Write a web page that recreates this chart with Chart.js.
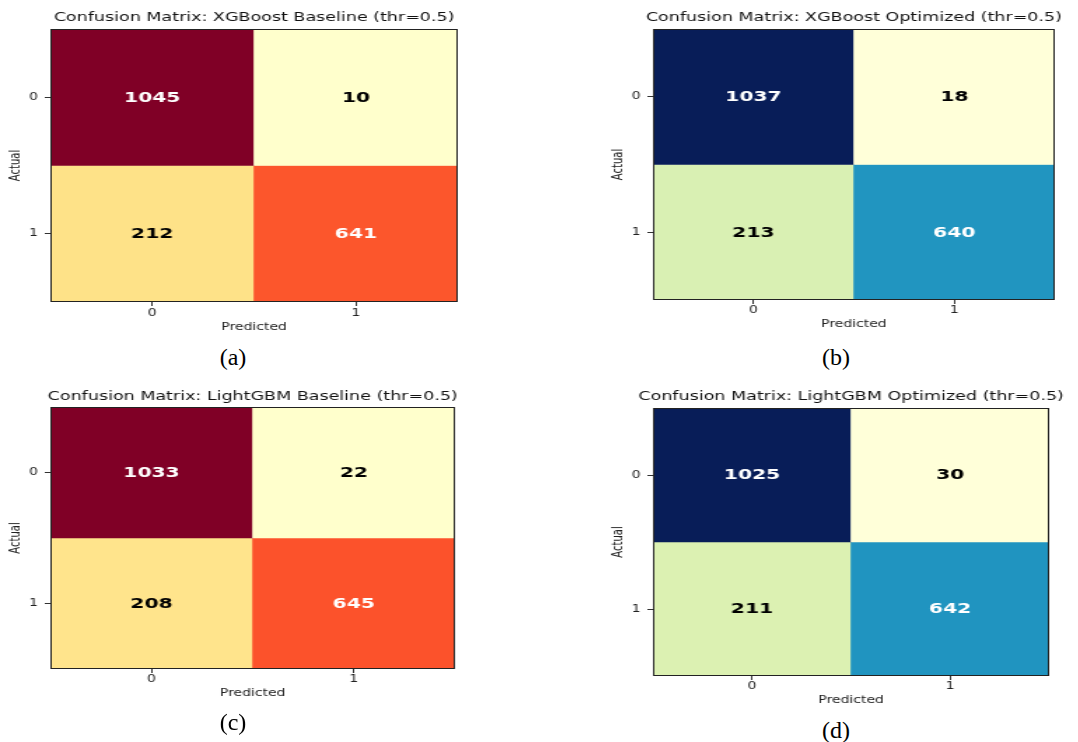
<!DOCTYPE html>
<html>
<head>
<meta charset="utf-8">
<script src="https://cdn.jsdelivr.net/npm/chart.js@4.4.1/dist/chart.umd.min.js"></script>
<style>
html,body{margin:0;padding:0;background:#fff;width:1078px;height:742px;overflow:hidden;position:relative;}
.panel{position:absolute;transform:scaleX(1.4);transform-origin:0 0;}
.panel canvas{display:block;}
.cap{position:absolute;font-family:"Liberation Serif","Times New Roman",serif;font-size:24px;color:#000;transform:translate(-50%,-50%);line-height:1;white-space:nowrap;}
</style>
</head>
<body>
<div class="panel" style="left:0px;top:0px"><canvas id="ca" width="363" height="340"></canvas></div>
<div class="panel" style="left:597px;top:0px"><canvas id="cb" width="367" height="340"></canvas></div>
<div class="panel" style="left:0px;top:371px"><canvas id="cc" width="361" height="340"></canvas></div>
<div class="panel" style="left:597px;top:371px"><canvas id="cd" width="363" height="340"></canvas></div>
<div class="cap" style="left:233px;top:357px">(a)</div>
<div class="cap" style="left:836px;top:357px">(b)</div>
<div class="cap" style="left:233px;top:722px">(c)</div>
<div class="cap" style="left:836px;top:730px">(d)</div>
<script>
// ---- data ----
const predictedLabels = ['0', '1'];
const actualTicks = [0, 1];
const actualTickLabels = ['0', '1'];
const xgbBaseline = [[1045, 10], [212, 641]];
const xgbOptimized = [[1037, 18], [213, 640]];
const lgbBaseline = [[1033, 22], [208, 645]];
const lgbOptimized = [[1025, 30], [211, 642]];
const panelTitles = [
  'Confusion Matrix: XGBoost Baseline (thr=0.5)',
  'Confusion Matrix: XGBoost Optimized (thr=0.5)',
  'Confusion Matrix: LightGBM Baseline (thr=0.5)',
  'Confusion Matrix: LightGBM Optimized (thr=0.5)'
];

// ---- colormaps ----
const YlOrRd = ['#ffffcc','#ffeda0','#fed976','#feb24c','#fd8d3c','#fc4e2a','#e31a1c','#bd0026','#800026'];
const YlGnBu = ['#ffffd9','#edf8b1','#c7e9b4','#7fcdbb','#41b6c4','#1d91c0','#225ea8','#253494','#081d58'];
function hex(h){return [parseInt(h.slice(1,3),16),parseInt(h.slice(3,5),16),parseInt(h.slice(5,7),16)];}
function cmapColor(stops, t){
  t = Math.max(0, Math.min(1, t));
  const p = t * (stops.length - 1);
  const i = Math.min(stops.length - 2, Math.floor(p));
  const f = p - i;
  const a = hex(stops[i]), b = hex(stops[i+1]);
  const c = a.map((v,k)=>Math.round(v + (b[k]-v)*f));
  return 'rgb(' + c.join(',') + ')';
}

const FONT = '"DejaVu Sans", Verdana, sans-serif';
const TITLE_SIZE = 12.5;

const cellText = {
  id: 'cellText',
  afterDatasetsDraw(chart) {
    const {ctx} = chart;
    const m = chart.config.options.plugins.cellText.matrix;
    const flat = m.flat();
    const thr = (Math.max(...flat) + Math.min(...flat)) / 2;
    ctx.save();
    ctx.font = 'bold 14.5px ' + FONT;
    ctx.textAlign = 'center';
    ctx.textBaseline = 'middle';
    chart.data.datasets.forEach((ds, r) => {
      const meta = chart.getDatasetMeta(r);
      meta.data.forEach((bar, j) => {
        const v = m[r][j];
        ctx.fillStyle = v > thr ? '#ffffff' : '#000000';
        ctx.fillText(String(v), bar.x, (bar.y + bar.base) / 2 + 0.5);
      });
    });
    ctx.restore();
  }
};
const frame = {
  id: 'frame',
  afterDraw(chart) {
    const {ctx, chartArea: a} = chart;
    ctx.save();
    ctx.strokeStyle = '#222';
    ctx.lineWidth = 1;
    ctx.strokeRect(a.left + 0.5, a.top + 0.5, a.right - a.left - 1, a.bottom - a.top - 1);
    ctx.restore();
  }
};

function makeChart(id, matrix, title, stops, g) {
  const flat = matrix.flat();
  const lo = Math.min(...flat), hi = Math.max(...flat);
  const datasets = matrix.map((row, r) => ({
    label: 'Actual ' + actualTickLabels[r],
    data: row.map(() => [actualTicks[r] - 0.5, actualTicks[r] + 0.5]),
    backgroundColor: row.map(v => cmapColor(stops, (v - lo) / (hi - lo))),
    borderWidth: 0,
    borderSkipped: false
  }));
  const tickGrid = {display: true, offset: false, drawOnChartArea: false, drawTicks: true, tickLength: 4, color: '#333', lineWidth: 1};
  return new Chart(document.getElementById(id), {
    type: 'bar',
    data: {labels: predictedLabels, datasets},
    options: {
      responsive: false,
      animation: false,
      devicePixelRatio: 1,
      layout: {padding: {top: g.pt, left: 0, right: 0, bottom: g.pbot}},
      plugins: {
        legend: {display: false},
        tooltip: {enabled: false},
        cellText: {matrix},
        title: {display: true, text: title, color: '#111', font: {family: FONT, size: TITLE_SIZE, weight: 'normal', lineHeight: 1.2}, padding: {top: 0, bottom: g.tb}}
      },
      datasets: {bar: {grouped: false, barPercentage: 1, categoryPercentage: 1}},
      scales: {
        x: {
          type: 'category', offset: true,
          grid: tickGrid,
          border: {display: false},
          ticks: {color: '#222', font: {family: FONT, size: 10}, padding: g.xtp, maxRotation: 0},
          title: {display: true, text: 'Predicted', color: '#222', font: {family: FONT, size: 10, lineHeight: 1.2}, padding: 0},
          afterFit: s => { s.height = g.H; }
        },
        y: {
          type: 'linear', min: -0.5, max: 1.5, reverse: true,
          afterBuildTicks: s => { s.ticks = actualTicks.map(v => ({value: v})); },
          grid: tickGrid,
          border: {display: false},
          ticks: {color: '#222', font: {family: FONT, size: 10}, padding: 5, callback: (v) => actualTickLabels[actualTicks.indexOf(v)]},
          title: {display: true, text: 'Actual', color: '#222', font: {family: FONT, size: 10, lineHeight: 1.2}, padding: {top: g.yt, bottom: 0}},
          afterFit: s => { s.width = g.A; }
        },
        yr: {
          type: 'linear', position: 'right', display: true,
          grid: {display: false}, ticks: {display: false}, border: {display: false},
          afterFit: s => { s.width = g.A; }
        }
      }
    },
    plugins: [cellText, frame]
  });
}

const TLH = TITLE_SIZE * 1.2;
// title centre y and plot top y (canvas-local) -> padding
function vgeom(titleCenter, plotTop) {
  const pt = titleCenter - TLH / 2;
  return {pt, tb: plotTop - pt - TLH};
}
const ga = vgeom(18, 29), gb = vgeom(18, 29), gc = vgeom(26, 36), gd = vgeom(26, 37);

makeChart('ca', xgbBaseline, panelTitles[0], YlOrRd, {A: 36, H: 31, pt: ga.pt, tb: ga.tb, pbot: 7, xtp: 1, yt: 5.4});
makeChart('cb', xgbOptimized, panelTitles[1], YlGnBu, {A: 40, H: 30, pt: gb.pt, tb: gb.tb, pbot: 10, xtp: 0, yt: 9.7});
makeChart('cc', lgbBaseline, panelTitles[2], YlOrRd, {A: 36, H: 30, pt: gc.pt, tb: gc.tb, pbot: 12, xtp: 0, yt: 5.4});
makeChart('cd', lgbOptimized, panelTitles[3], YlGnBu, {A: 40, H: 30, pt: gd.pt, tb: gd.tb, pbot: 5, xtp: 0, yt: 9.7});
</script>
</body>
</html>
